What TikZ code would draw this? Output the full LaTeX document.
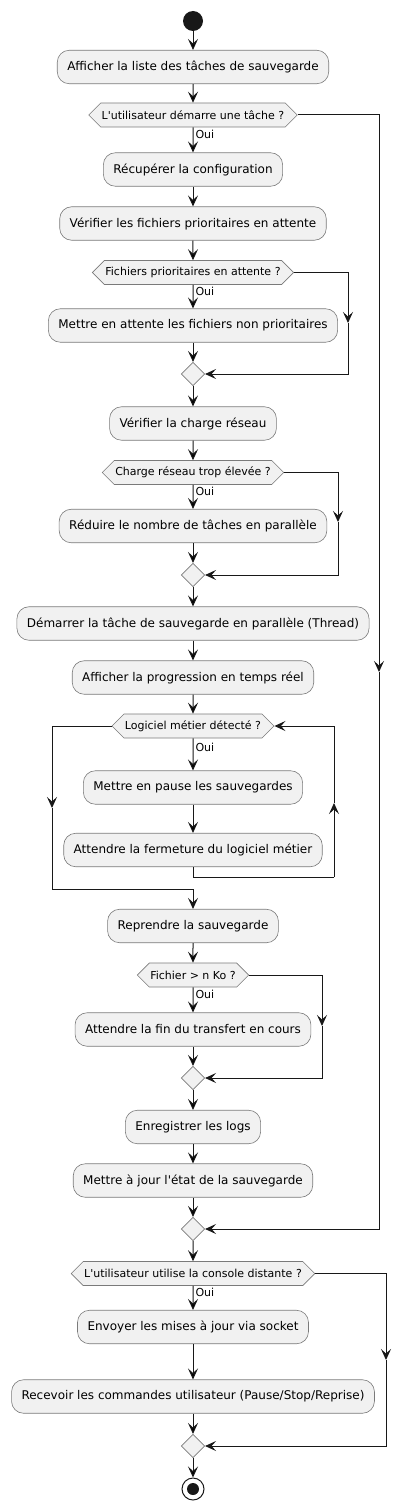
\documentclass[tikz,border=0pt]{standalone}
\usepackage{fontspec}
\setmainfont{DejaVu Sans}[Ligatures=TeXOff]
\usetikzlibrary{arrows.meta,positioning,shapes.geometric,shapes.symbols}
\definecolor{actfill}{HTML}{F1F1F1}
\definecolor{linecol}{HTML}{181818}
\definecolor{bordercol}{HTML}{7A7A7A}

\begin{document}
\begin{tikzpicture}[x=1pt,y=-1pt,node distance=50pt,on grid,auto,
  activity/.style={draw=bordercol,line width=0.6pt,fill=actfill,rounded corners=12pt,minimum height=33.5pt,inner xsep=10pt,font=\fontsize{12}{14}\selectfont},
  choice/.style={signal,signal to=east and west,signal pointer angle=90,draw=bordercol,line width=0.6pt,fill=actfill,minimum height=24pt,inner xsep=1pt,inner ysep=0pt,font=\fontsize{11}{13}\selectfont},
  joint/.style={diamond,aspect=1,draw=bordercol,line width=0.6pt,fill=actfill,minimum size=23.5pt,inner sep=0pt},
  startdot/.style={circle,fill=linecol,minimum size=20pt,inner sep=0pt},
  enddot/.style={circle,draw=linecol,line width=1pt,minimum size=22pt,inner sep=0pt,path picture={\fill[linecol] (path picture bounding box.center) circle (6pt);}},
  flow/.style={draw=linecol,line width=1pt,-{Stealth[length=11pt,width=10pt,inset=4.5pt]}},
  wire/.style={draw=linecol,line width=1pt},
  oui/.style={right,pos=0.27,inner sep=2pt,font=\fontsize{11}{13}\selectfont}]
   \useasboundingbox (0,0) rectangle (410,1509);
   \node[startdot] (start) at (193,21) {};
   \node[activity] (a_1) [below=46pt of start] {Afficher la liste des tâches de sauvegarde};
   \node[choice] (d_1) [below=48pt of a_1] {L'utilisateur démarre une tâche ?};
   \node[activity] (a_2) [below=54.5pt of d_1] {Récupérer la configuration};
   \node[activity] (a_3) [below=54pt of a_2] {Vérifier les fichiers prioritaires en attente};
   \node[choice] (d_2) [below=49pt of a_3] {Fichiers prioritaires en attente ?};
   \node[activity] (a_4) [below=53pt of d_2] {Mettre en attente les fichiers non prioritaires};
   \node[joint] (j_2) [below=48.5pt of a_4] {};
   \node[activity] (a_5) [below=49.5pt of j_2] {Vérifier la charge réseau};
   \node[choice] (d_3) [below=49pt of a_5] {Charge réseau trop élevée ?};
   \node[activity] (a_6) [below=53.5pt of d_3] {Réduire le nombre de tâches en parallèle};
   \node[joint] (j_3) [below=49pt of a_6] {};
   \node[activity] (a_7) [below=48.5pt of j_3] {Démarrer la tâche de sauvegarde en parallèle (Thread)};
   \node[activity] (a_8) [below=54pt of a_7] {Afficher la progression en temps réel};
   \node[choice] (d_4) [below=48.5pt of a_8] {Logiciel métier détecté ?};
   \node[activity] (a_9) [below=61.5pt of d_4] {Mettre en pause les sauvegardes};
   \node[activity] (a_10) [below=62.5pt of a_9] {Attendre la fermeture du logiciel métier};
   \node[activity] (a_11) [below=76pt of a_10] {Reprendre la sauvegarde};
   \node[choice] (d_5) [below=49pt of a_11] {Fichier > n Ko ?};
   \node[activity] (a_12) [below=54.5pt of d_5] {Attendre la fin du transfert en cours};
   \node[joint] (j_5) [below=48.5pt of a_12] {};
   \node[activity] (a_13) [below=49pt of j_5] {Enregistrer les logs};
   \node[activity] (a_14) [below=53.5pt of a_13] {Mettre à jour l'état de la sauvegarde};
   \node[joint] (j_1) [below=48.5pt of a_14] {};
   \node[choice] (d_6) [below=44.5pt of j_1] {L'utilisateur utilise la console distante ?};
   \node[activity] (a_15) [below=53.5pt of d_6] {Envoyer les mises à jour via socket};
   \node[activity] (a_16) [below=69.5pt of a_15] {Recevoir les commandes utilisateur (Pause/Stop/Reprise)};
   \node[joint] (j_6) [below=49.5pt of a_16] {};
   \node[enddot] (stop) [below=43pt of j_6] {};
   % side branches and loop corners
   \coordinate (r_1) at (379,672);
   \coordinate (r_2) at (348,323);
   \coordinate (r_3) at (338,522);
   \coordinate (r_5) at (322,1026);
   \coordinate (r_6) at (386,1360);
   \coordinate (l_1) at (334,877);
   \coordinate (l_2) at (334,803);
   \coordinate (x_1) at (52,808);
   \coordinate (x_2) at (193,889);
    \path[flow]
    (start) edge (a_1)
    (a_1) edge (d_1)
    (d_1) edge node[oui] {Oui} (a_2)
    (a_2) edge (a_3)
    (a_3) edge (d_2)
    (d_2) edge node[oui] {Oui} (a_4)
    (a_4) edge (j_2)
    (j_2) edge (a_5)
    (a_5) edge (d_3)
    (d_3) edge node[oui] {Oui} (a_6)
    (a_6) edge (j_3)
    (j_3) edge (a_7)
    (a_7) edge (a_8)
    (a_8) edge (d_4)
    (d_4) edge node[oui] {Oui} (a_9)
    (a_9) edge (a_10)
    (a_11) edge (d_5)
    (d_5) edge node[oui] {Oui} (a_12)
    (a_12) edge (j_5)
    (j_5) edge (a_13)
    (a_13) edge (a_14)
    (a_14) edge (j_1)
    (j_1) edge (d_6)
    (d_6) edge node[oui] {Oui} (a_15)
    (a_15) edge (a_16)
    (a_16) edge (j_6)
    (j_6) edge (stop);
   \draw[flow] (d_1.east) -| (r_1);
   \draw[flow] (r_1) |- (j_1.east);
   \draw[flow] (d_2.east) -| (r_2);
   \draw[flow] (r_2) |- (j_2.east);
   \draw[flow] (d_3.east) -| (r_3);
   \draw[flow] (r_3) |- (j_3.east);
   \draw[flow] (d_5.east) -| (r_5);
   \draw[flow] (r_5) |- (j_5.east);
   \draw[flow] (d_6.east) -| (r_6);
   \draw[flow] (r_6) |- (j_6.east);
   \draw[wire] (a_10.south) |- (l_1);
   \draw[flow] (l_1) -- (l_2);
   \draw[flow] (l_2) |- (d_4.east);
   \draw[flow] (d_4.west) -| (x_1);
   \draw[flow] (x_1) |- (x_2) -- (a_11);
\end{tikzpicture}
\end{document}
